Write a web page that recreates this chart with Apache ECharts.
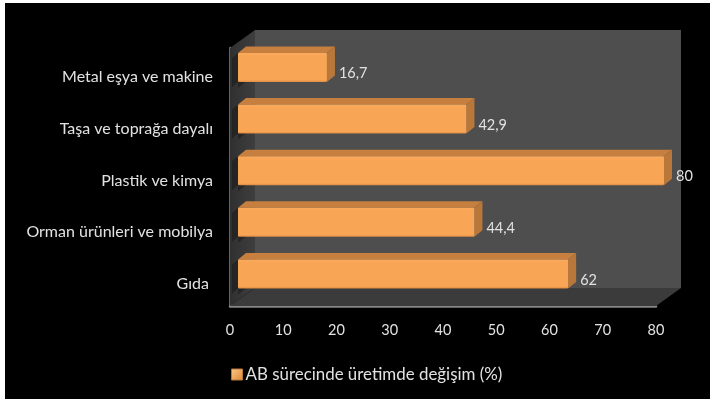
<!DOCTYPE html>
<html><head><meta charset="utf-8">
<style>html,body{margin:0;padding:0;background:#fff}#c{width:710px;height:399px}</style>
<script src="https://cdn.jsdelivr.net/npm/echarts@6/dist/echarts.min.js"></script>
</head><body><div id="c"></div>
<script>
const categories = ['Metal eşya ve makine','Taşa ve toprağa dayalı','Plastik ve kimya','Orman ürünleri ve mobilya','Gıda '];
const values = [16.7, 42.9, 80, 44.4, 62];
const valueLabels = ['16,7','42,9','80','44,4','62'];
const seriesName = 'AB sürecinde üretimde değişim (%)';
const FONT = 'Lato';
const TEXT = '#e2e2e2';
const chart = echarts.init(document.getElementById('c'), null, {renderer:'canvas'});
const poly = (pts, fill) => ({type:'polygon', shape:{points:pts}, style:{fill}, silent:true});
chart.setOption({
  animation:false,
  backgroundColor:'#fff',
  graphic:[{type:'rect', z:-100, silent:true, shape:{x:5,y:3,width:705,height:396}, style:{fill:'#000'}}],
  grid:{left:230, top:48, width:426, height:258, containLabel:false},
  legend:{
    data:[{name:seriesName, icon:'rect', itemStyle:{color:new echarts.graphic.LinearGradient(0,0,1,1,[{offset:0,color:'#fcc888'},{offset:1,color:'#dd8636'}]), borderColor:'#b8773a', borderWidth:1}}],
    left:226, top:361, itemWidth:11, itemHeight:11, itemGap:0,
    textStyle:{color:TEXT, fontFamily:FONT, fontSize:16.9, padding:[0,0,0,-2]}
  },
  xAxis:{type:'value', min:0, max:80, interval:10, position:'bottom',
    axisLine:{show:true, onZero:false, lineStyle:{color:'#858585', width:2.5}},
    axisTick:{show:false}, splitLine:{show:false},
    axisLabel:{color:TEXT, fontFamily:FONT, fontSize:14.5, margin:17}},
  yAxis:{type:'category', inverse:true, data:categories,
    axisLine:{show:true, onZero:false, lineStyle:{color:'#858585', width:2.5}},
    axisTick:{show:false}, splitLine:{show:false},
    axisLabel:{color:TEXT, fontFamily:FONT, fontSize:16, margin:17, verticalAlign:'top', lineHeight:7}},
  series:[
    {type:'custom', name:'walls', silent:true, z:1, data:[[0,0]], encode:{x:0,y:1},
     renderItem(params, api){
       const r = params.coordSys, dx=25, dy=18;
       const L=r.x, R=r.x+r.width, T=r.y, B=r.y+r.height;
       const wall = new echarts.graphic.LinearGradient(0,0,1,0,[{offset:0,color:'#303030'},{offset:1,color:'#3e3e3e'}]);
       const kids = [
         poly([[L+dx,T-dy],[R+dx,T-dy],[R+dx,B-dy],[L+dx,B-dy]], '#4e4e4e'),
         poly([[L,T],[L+dx,T-dy],[L+dx,B-dy],[L,B]], wall),
         poly([[L,B],[L+dx,B-dy],[R+dx,B-dy],[R,B]], '#3b3b3b')
       ];
       categories.forEach((c,i)=>{
         const cy = api.coord([0,i])[1]-6.3, t=cy-14.5, b=cy+14.5;
         kids.push(poly([[L+2,t+5],[L+8,t],[L+8,b],[L+2,b+5]], 'rgba(0,0,0,0.28)'));
         kids.push(poly([[L+8,b],[L+dx,b-12],[L+dx,b-7],[L+8,b+6]], 'rgba(0,0,0,0.28)'));
       });
       return {type:'group', children:kids};
     }},
    {type:'custom', name:seriesName, z:3, data:values.map((v,i)=>[v,i]), encode:{x:0,y:1},
     itemStyle:{color:'#f9a556'},
     renderItem(params, api){
       const i = params.dataIndex;
       const p1 = api.coord([api.value(0), i]);
       const p0 = api.coord([0, i]);
       const ox=8, cy=p1[1]-6.3, h=29, dx=8, dy=6.5;
       const x0=p0[0]+ox, x1=p1[0]+ox, t=cy-h/2, b=cy+h/2;
       return {type:'group', children:[
         poly([[x0,t],[x0+dx,t-dy],[x1+dx,t-dy],[x1,t]], '#c67f3f'),
         poly([[x1,t],[x1+dx,t-dy],[x1+dx,b-dy],[x1,b]], '#b9773a'),
         {type:'rect', shape:{x:x0,y:t,width:x1-x0,height:h,r:1},
          style:{fill:new echarts.graphic.LinearGradient(0,0,0,1,[{offset:0,color:'#fbaa5c'},{offset:0.1,color:'#f9a556'},{offset:0.93,color:'#f9a556'},{offset:1,color:'#dc8c42'}])}},
         {type:'text', style:{text:valueLabels[i], x:x1+dx+4, y:cy+6, fill:TEXT, font:'14.5px '+FONT, verticalAlign:'middle', align:'left'}}
       ]};
     }}
  ]
});
</script></body></html>
